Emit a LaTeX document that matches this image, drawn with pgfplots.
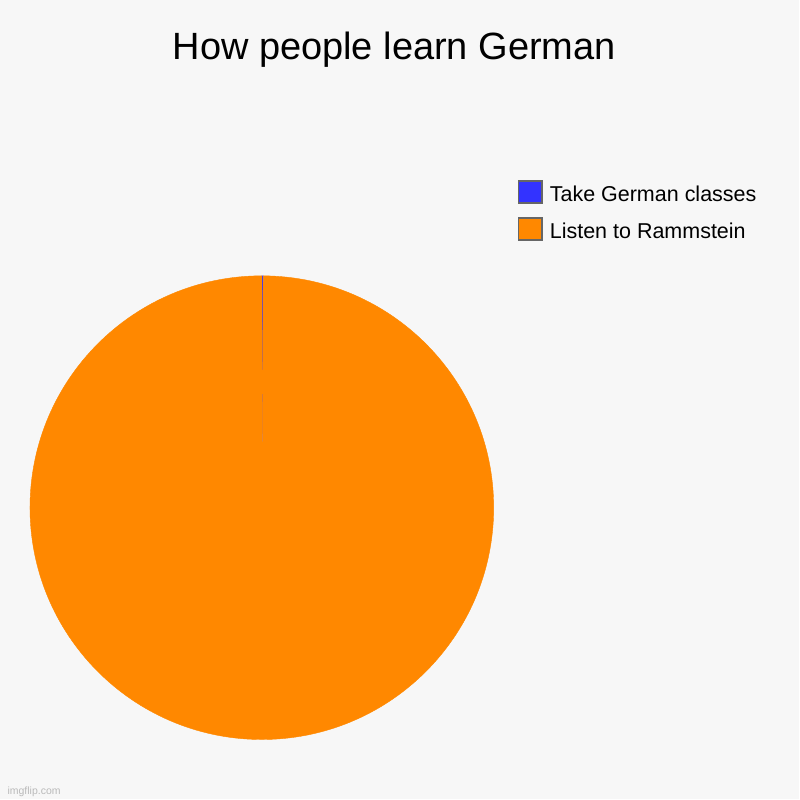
\documentclass[border=0pt]{standalone}
\usepackage{pgfplots}
\pgfplotsset{compat=1.18}
\usepackage{pgfplotstable}
\usepackage{fontspec}
\setmainfont{Liberation Sans}

\definecolor{bg}{HTML}{F7F7F7}
\definecolor{pieblue}{HTML}{3333FF}
\definecolor{pieorange}{HTML}{FF8800}
\definecolor{boxgray}{HTML}{666666}
% slice colours by row number
\colorlet{slice0}{pieblue}
\colorlet{slice1}{pieorange}

% share of each answer, in percent, clockwise from the top
\pgfplotstableread{
x y value idx
0 0 0.1  0
0 0 99.9 1
}\piedata

\pgfdeclareplotmark{none*}{}
\newcommand\pieR{232pt}
\gdef\cumangle{90}

\begin{document}
\begin{tikzpicture}[x=1pt,y=1pt]
\fill[bg] (0,0) rectangle (800,800);
\node[anchor=base, font=\fontsize{38}{44}\selectfont] at (394.5,740) {How people learn German};
\node[anchor=base west, font=\fontsize{10.5}{12}\selectfont, text=black!27] at (4,5) {imgflip.com};
\begin{axis}[
    at={(262pt,292pt)}, anchor=center,
    scale only axis, width=464pt, height=464pt,
    xmin=-1, xmax=1, ymin=-1, ymax=1,
    hide axis, clip=false,
    legend style={at={(1.0517,1.2069)}, anchor=north west,
        draw=none, fill=none, inner sep=0pt, row sep=13pt,
        font=\fontsize{21.5}{24}\selectfont,
        nodes={inner sep=0pt, anchor=base west}},
    legend image code/.code={\draw[line width=1.6pt, draw=boxgray, #1] (0.8pt,-2.2pt) rectangle (24.2pt,20.2pt);},
    ]
    \addplot[scatter, only marks, mark=none*, forget plot,
        visualization depends on={\thisrow{value}\as\val},
        visualization depends on={\thisrow{idx}\as\idx},
        scatter/@pre marker code/.code={%
            \pgfmathsetmacro\angA{\cumangle}%
            \pgfmathsetmacro\angB{\cumangle-3.6*\val}%
            \pgfmathtruncatemacro\sliceno{\idx}%
            \pgfmathtruncatemacro\thin{3.6*\val<3}%
            \ifnum\thin=1
                % a sliver: the arc is too short for pgf, a chord will do
                \filldraw[slice\sliceno, line width=0.4pt] (0pt,0pt) -- (\angA:\pieR) -- (\angB:\pieR) -- cycle;%
            \else
                \fill[slice\sliceno] (0pt,0pt) -- (\angA:\pieR) arc[start angle=\angA, end angle=\angB, radius=\pieR] -- cycle;%
            \fi
            \xdef\cumangle{\angB}%
        },
        scatter/@post marker code/.code={},
    ] table[x=x, y=y] {\piedata};
    \addlegendimage{fill=pieblue}
    \addlegendentry{\hspace{7pt}Take German classes}
    \addlegendimage{fill=pieorange}
    \addlegendentry{\hspace{7pt}Listen to Rammstein}
\end{axis}
\end{tikzpicture}
\end{document}
